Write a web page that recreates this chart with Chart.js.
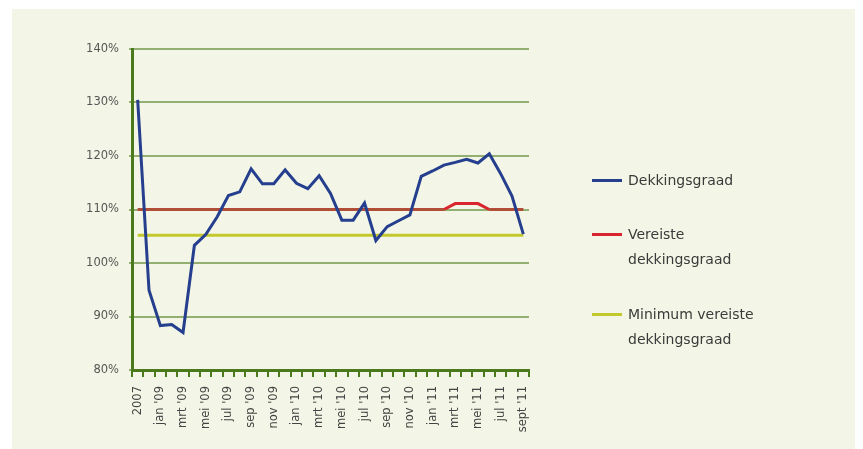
<!DOCTYPE html>
<html>
<head>
<meta charset="utf-8">
<script src="https://cdn.jsdelivr.net/npm/chart.js@4.4.0/dist/chart.umd.min.js"></script>
<style>
  html, body { margin: 0; padding: 0; background: #fff; }
  body { width: 863px; height: 449px; position: relative; overflow: hidden; font-family: "DejaVu Sans", sans-serif; }
  #panel { position: absolute; left: 12px; top: 9px; width: 843px; height: 440px; background: #f3f6e6; }
  #wrap { position: absolute; left: 0; top: 0; width: 843px; height: 440px; }
  #legend { position: absolute; left: 580px; top: 160px; color: #3a3a3a; font-size: 14px; }
  .item { position: absolute; left: 0; width: 240px; }
  .item .swatch { position: absolute; left: 0; width: 30px; height: 3px; }
  .item .txt { position: absolute; left: 36px; line-height: 25px; white-space: nowrap; }
</style>
</head>
<body>
<div id="panel">
  <div id="wrap"><canvas id="chart"></canvas></div>
  <div id="legend"></div>
</div>
<script>
// categorieën (maanden)
const categories = [
  "2007", "2008",
  "jan '09", "feb '09", "mrt '09", "apr '09", "mei '09", "jun '09", "jul '09", "aug '09", "sep '09", "okt '09", "nov '09", "dec '09",
  "jan '10", "feb '10", "mrt '10", "apr '10", "mei '10", "jun '10", "jul '10", "aug '10", "sep '10", "okt '10", "nov '10", "dec '10",
  "jan '11", "feb '11", "mrt '11", "apr '11", "mei '11", "jun '11", "jul '11", "aug '11", "sept '11"
];

const dekkingsgraad = [
  130.5, 94.9,
  88.3, 88.5, 87.0, 103.3, 105.3, 108.6, 112.6, 113.3, 117.6, 114.8, 114.8, 117.4,
  114.9, 113.9, 116.3, 113.0, 108.0, 108.0, 111.2, 104.2, 106.8, 107.9, 109.0, 116.2,
  117.2, 118.3, 118.8, 119.4, 118.7, 120.4, 116.7, 112.5, 105.4
];

const vereiste = [
  110, 110,
  110, 110, 110, 110, 110, 110, 110, 110, 110, 110, 110, 110,
  110, 110, 110, 110, 110, 110, 110, 110, 110, 110, 110, 110,
  110, 110, 111.1, 111.1, 111.1, 110, 110, 110, 110
];

const minimumVereiste = categories.map(() => 105.2);

const yTicks = [80, 90, 100, 110, 120, 130, 140];

const seriesNames = ['Dekkingsgraad', 'Vereiste\ndekkingsgraad', 'Minimum vereiste\ndekkingsgraad'];
const seriesColors = ['#253f8e', '#d9262e', '#c3c92c'];

const axisGreen = '#4b7a1c';
const gridGreen = '#93b072';

const ctx = document.getElementById('chart').getContext('2d');
new Chart(ctx, {
  type: 'line',
  data: {
    labels: categories,
    datasets: [
      { label: seriesNames[0], data: dekkingsgraad, borderColor: seriesColors[0], borderWidth: 3, pointRadius: 0, tension: 0 },
      { label: seriesNames[1], data: vereiste, borderColor: seriesColors[1], borderWidth: 3, pointRadius: 0, tension: 0,
        segment: {
          borderColor: c => (c.p0.parsed.y > 110.05 || c.p1.parsed.y > 110.05) ? seriesColors[1] : '#b04e38'
        } },
      { label: seriesNames[2], data: minimumVereiste, borderColor: seriesColors[2], borderWidth: 3, pointRadius: 0, tension: 0 }
    ]
  },
  options: {
    responsive: true,
    maintainAspectRatio: false,
    animation: false,
    layout: { padding: { left: 60, right: 326, top: 40, bottom: 0 } },
    plugins: { legend: { display: false }, tooltip: { enabled: false } },
    scales: {
      x: {
        offset: true,
        grid: { offset: true, drawOnChartArea: false, drawTicks: true, tickLength: 7, color: axisGreen, lineWidth: 2 },
        border: { color: axisGreen, width: 3 },
        ticks: {
          autoSkip: false, maxRotation: 90, minRotation: 90, padding: 9,
          color: '#444', font: { family: 'DejaVu Sans', size: 11.5 },
          callback: function(v, i) { return i % 2 === 0 ? this.getLabelForValue(v) : ''; }
        },
        afterFit: s => { s.height = 79; }
      },
      y: {
        min: 80, max: 140,
        afterBuildTicks: s => { s.ticks = yTicks.map(v => ({ value: v })); },
        grid: { color: gridGreen, lineWidth: 2, tickLength: 3 },
        border: { color: axisGreen, width: 3 },
        ticks: { padding: 10, color: '#555', font: { family: 'DejaVu Sans', size: 11.5 }, callback: v => v + '%' },
        afterFit: s => { s.width = 60; }
      }
    }
  }
});

// legenda
const legend = document.getElementById('legend');
const legendTops = [0, 54, 134];
seriesNames.forEach((name, i) => {
  const item = document.createElement('div');
  item.className = 'item';
  item.style.top = legendTops[i] + 'px';
  const sw = document.createElement('div');
  sw.className = 'swatch';
  sw.style.background = seriesColors[i];
  sw.style.top = '10px';
  const txt = document.createElement('div');
  txt.className = 'txt';
  txt.style.top = '-1px';
  txt.innerHTML = name.split('\n').join('<br>');
  item.appendChild(sw);
  item.appendChild(txt);
  legend.appendChild(item);
});
</script>
</body>
</html>
